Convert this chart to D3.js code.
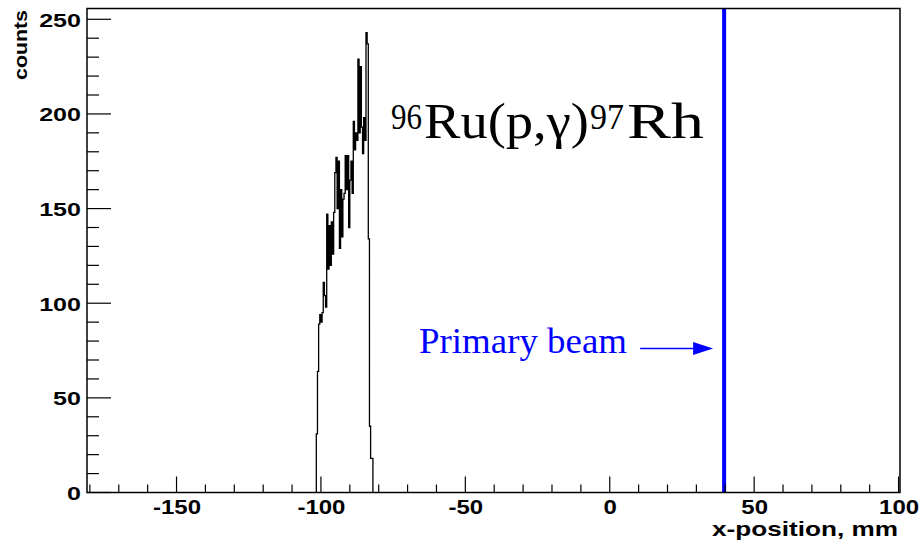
<!DOCTYPE html>
<html>
<head>
<meta charset="utf-8">
<script src="https://cdn.jsdelivr.net/npm/d3@7"></script>
<style>
  body { margin: 0; background: #fff; }
  svg { display: block; }
</style>
</head>
<body>
<svg id="chart" width="921" height="545"></svg>
<script>
// Histogram of x-position at the focal plane (mm)
var xTicks = [-150, -100, -50, 0, 50, 100];
var yTicks = [0, 50, 100, 150, 200, 250];
var binStart = -101.6;
var binWidth = 0.4;
var counts = [31, 64, 89, 94, 90, 95, 111, 104, 98, 147,
              118, 141, 120, 143, 126, 148, 169, 177, 150, 175,
              129, 160, 135, 155, 158, 178, 160, 178, 140, 165,
              175, 158, 196, 181, 190, 186, 229, 190, 225, 193,
              179, 198, 186, 243, 237, 134, 35, 18, 18];
var beamPosition = 39.6;

var frame = {left: 87, right: 900, top: 8.5, bottom: 492.5};
var svg = d3.select('svg#chart');

var xScale = d3.scaleLinear().domain([-181, 100.5]).range([frame.left, frame.right]);
var yScale = d3.scaleLinear().domain([0, 255.7]).range([frame.bottom, frame.top]);

// plain hyphen for negatives, like the original plot
var fmt = function(d) { return String(d); };

// stretch a label horizontally, the original picture is wider than tall
function stretch(sel, k) {
  sel.each(function() {
    var w = this.getComputedTextLength();
    d3.select(this).attr('textLength', w * k).attr('lengthAdjust', 'spacingAndGlyphs');
  });
}

// histogram outline
var pts = [[binStart, 0]];
counts.forEach(function(c, i) {
  pts.push([binStart + i * binWidth, c]);
});
pts.push([binStart + counts.length * binWidth, 0]);

var line = d3.line()
  .x(function(d) { return xScale(d[0]); })
  .y(function(d) { return yScale(d[1]); })
  .curve(d3.curveStepAfter);

svg.append('path')
  .attr('d', line(pts))
  .attr('fill', 'none')
  .attr('stroke', '#000')
  .attr('stroke-width', 1.3);

// primary beam
var bx = xScale(beamPosition);
svg.append('line')
  .attr('x1', bx).attr('x2', bx)
  .attr('y1', yScale(255.7)).attr('y2', yScale(0))
  .attr('stroke', '#0000ff')
  .attr('stroke-width', 4);

// x axis (ticks point into the plot)
var xAxis = d3.axisBottom(xScale).tickValues(xTicks).tickSize(0).tickPadding(0)
  .tickFormat(fmt);
var gx = svg.append('g')
  .attr('class', 'x-axis')
  .attr('transform', 'translate(0,' + frame.bottom + ')')
  .call(xAxis);
gx.select('.domain').remove();
gx.selectAll('text')
  .attr('y', 21).attr('dy', 0)
  .attr('fill', '#000')
  .style('font', 'bold 20px "Liberation Sans", Arial, sans-serif')
  .call(stretch, 1.2);

var xMinor = d3.range(-180, 101, 10);
svg.append('g').selectAll('line')
  .data(xMinor)
  .enter().append('line')
  .attr('x1', function(d) { return xScale(d); })
  .attr('x2', function(d) { return xScale(d); })
  .attr('y1', frame.bottom)
  .attr('y2', function(d) { return frame.bottom - (d % 50 === 0 ? 16 : 8); })
  .attr('stroke', '#000')
  .attr('stroke-width', 1.2);

// y axis
var yAxis = d3.axisLeft(yScale).tickValues(yTicks).tickSize(0).tickPadding(0)
  .tickFormat(fmt);
var gy = svg.append('g')
  .attr('class', 'y-axis')
  .attr('transform', 'translate(' + frame.left + ',0)')
  .call(yAxis);
gy.select('.domain').remove();
gy.selectAll('text')
  .attr('x', -6).attr('dy', 7)
  .attr('fill', '#000')
  .style('font', 'bold 19px "Liberation Sans", Arial, sans-serif')
  .call(stretch, 1.32);

var yMinor = d3.range(0, 251, 10);
svg.append('g').selectAll('line')
  .data(yMinor)
  .enter().append('line')
  .attr('x1', frame.left)
  .attr('x2', function(d) { return frame.left + (d % 50 === 0 ? 24 : 12); })
  .attr('y1', function(d) { return yScale(d); })
  .attr('y2', function(d) { return yScale(d); })
  .attr('stroke', '#000')
  .attr('stroke-width', 1.2);

// frame
svg.append('rect')
  .attr('x', frame.left).attr('y', frame.top)
  .attr('width', frame.right - frame.left)
  .attr('height', frame.bottom - frame.top)
  .attr('fill', 'none')
  .attr('stroke', '#000')
  .attr('stroke-width', 1.5);

// axis titles
svg.append('text')
  .attr('transform', 'translate(27,10) rotate(-90)')
  .attr('text-anchor', 'end')
  .style('font', 'bold 19px "Liberation Sans", Arial, sans-serif')
  .attr('textLength', 70).attr('lengthAdjust', 'spacingAndGlyphs')
  .text('counts');

svg.append('text')
  .attr('x', 898).attr('y', 536)
  .attr('text-anchor', 'end')
  .style('font', 'bold 21px "Liberation Sans", Arial, sans-serif')
  .attr('textLength', 186).attr('lengthAdjust', 'spacingAndGlyphs')
  .text('x-position, mm');

// reaction label
var serif = '"Liberation Serif", "Times New Roman", serif';
var reaction = svg.append('text').style('font-family', serif).attr('fill', '#000');
reaction.append('tspan').attr('x', 391).attr('y', 129).style('font-size', '36px')
  .attr('textLength', 31).attr('lengthAdjust', 'spacingAndGlyphs').text('96');
reaction.append('tspan').attr('x', 424).attr('y', 138).style('font-size', '51px')
  .attr('textLength', 165).attr('lengthAdjust', 'spacingAndGlyphs').text('Ru(p,\u03b3)');
reaction.append('tspan').attr('x', 590).attr('y', 129).style('font-size', '36px')
  .attr('textLength', 34).attr('lengthAdjust', 'spacingAndGlyphs').text('97');
reaction.append('tspan').attr('x', 627).attr('y', 138).style('font-size', '51px')
  .attr('textLength', 77).attr('lengthAdjust', 'spacingAndGlyphs').text('Rh');

// beam annotation
svg.append('text')
  .attr('x', 419).attr('y', 353)
  .attr('fill', '#0000ff')
  .style('font', '36px ' + serif)
  .attr('textLength', 208).attr('lengthAdjust', 'spacingAndGlyphs')
  .text('Primary beam');

var ax = bx - 11;
svg.append('line')
  .attr('x1', ax - 73).attr('x2', ax - 18)
  .attr('y1', 348.5).attr('y2', 348.5)
  .attr('stroke', '#0000ff')
  .attr('stroke-width', 1.3);
svg.append('path')
  .attr('d', 'M' + (ax - 20) + ',' + 342 + 'L' + ax + ',' + 348.5 + 'L' + (ax - 20) + ',' + 355 + 'Z')
  .attr('fill', '#0000ff');
</script>
</body>
</html>
